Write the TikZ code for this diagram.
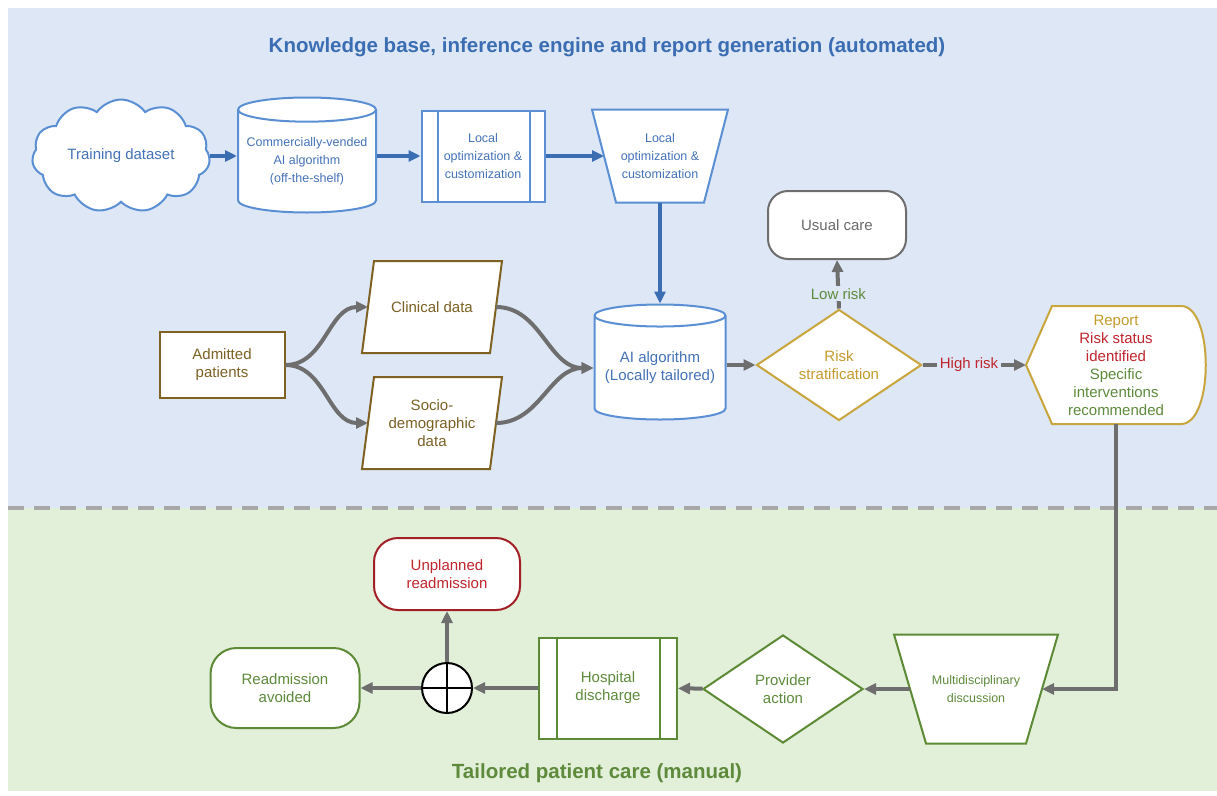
\documentclass[tikz,border=0pt]{standalone}
\usepackage{fontspec}
\setmainfont{Liberation Sans}
\usetikzlibrary{shapes.geometric,shapes.symbols,arrows.meta}
\pgfdeclarelayer{bg}
\pgfdeclarelayer{shapes}
\pgfsetlayers{bg,shapes,main}

\definecolor{bluebg}{HTML}{DDE7F6}
\definecolor{greenbg}{HTML}{E2EFD9}
\definecolor{blueline}{HTML}{5B8FD3}
\definecolor{bluedark}{HTML}{3B6DB3}
\definecolor{bluetext}{HTML}{4472B8}
\definecolor{brownline}{HTML}{7F6122}
\definecolor{browntext}{HTML}{7B6125}
\definecolor{goldline}{HTML}{C9A53D}
\definecolor{goldtext}{HTML}{C49A2E}
\definecolor{redtext}{HTML}{C0252D}
\definecolor{greentext}{HTML}{5E8A3C}
\definecolor{greenline}{HTML}{5D8A35}
\definecolor{grayline}{HTML}{6E6E6E}
\definecolor{graytext}{HTML}{6A6A6A}

\begin{document}
\begin{tikzpicture}[x=1pt, y=-1pt,
	every node/.style={font=\fontsize{15}{18}\selectfont, align=center, fill=white, line width=2pt, inner sep=0pt},
	small/.style={font=\fontsize{12.5}{18}\selectfont},
	heading/.style={fill=none, font=\bfseries\fontsize{20.5}{24}\selectfont},
	bluebox/.style={draw=blueline, text=bluetext},
	brownbox/.style={draw=brownline, text=browntext},
	goldbox/.style={draw=goldline, text=goldtext},
	greenbox/.style={draw=greenline, text=greentext},
	outline/.style={fill=white, line width=2pt},
	free/.style={rectangle, draw=none, fill=none},
	grayarrow/.style={draw=grayline, line width=4pt, -{Triangle[length=12pt,width=11pt]}},
	bluearrow/.style={draw=bluedark, line width=3.5pt, -{Triangle[length=12pt,width=11pt]}},
	terminal/.style={rectangle, rounded corners=20pt, minimum width=138, minimum height=68},
	db/.style={cylinder, shape border rotate=90, aspect=0.2, anchor=shape center, bluebox}]
	\useasboundingbox (0,0) rectangle (1217,795);
	\begin{pgfonlayer}{bg}
	\fill[bluebg] (8,8) rectangle (1217,508);
	\fill[greenbg] (8,508) rectangle (1217,791);
	\draw[grayline!60, line width=4pt, dash pattern=on 16pt off 10pt] (8,508) -- (1217,508);
	\end{pgfonlayer}
	
	\node[heading, text=bluedark] (top) at (607,47) {Knowledge base, inference engine and report generation (automated)};
	\node[heading, text=greentext] (bottom) at (597,773) {Tailored patient care (manual)};
	
	\node[cloud, cloud puffs=11, cloud puff arc=110, aspect=1.6, minimum width=178, minimum height=110, bluebox] (train) at (121,156) {Training dataset};
	\node[db, minimum width=138, minimum height=115, small] (vend) at (307,155) {Commercially-vended\\AI algorithm\\(off-the-shelf)};
	\node[rectangle, minimum width=123, minimum height=91, bluebox, small] (proc) at (483,156) {Local\\optimization \&\\customization};
	\draw[blueline, line width=2pt] ([xshift=17]proc.north west) -- ([xshift=17]proc.south west);
	\draw[blueline, line width=2pt] ([xshift=-16]proc.north east) -- ([xshift=-16]proc.south east);
	\node[free, minimum width=110, minimum height=91, text=bluetext, small] (custom) at (660,156) {Local\\optimization \&\\customization};
	
	\node[rectangle, minimum width=125, minimum height=66, brownbox] (admit) at (222,365) {Admitted\\patients};
	\node[free, minimum width=126, minimum height=90, text=browntext] (clin) at (432,307) {Clinical data};
	\node[free, minimum width=126, minimum height=90, text=browntext] (socio) at (432,423) {Socio-\\demographic\\data};
	\node[db, minimum width=131, minimum height=115] (ai) at (660,362) {AI algorithm\\(Locally tailored)};
	\node[diamond, aspect=1.5, minimum width=165, minimum height=111, goldbox] (risk) at (839,365) {Risk\\stratification};
	\node[terminal, draw=grayline, text=graytext] (usual) at (837,225) {Usual care};
	\node[free, minimum width=178, minimum height=116] (report) at (1116,365) {\textcolor{goldtext}{Report}\\\textcolor{redtext}{Risk status}\\\textcolor{redtext}{identified}\\\textcolor{greentext}{Specific}\\\textcolor{greentext}{interventions}\\\textcolor{greentext}{recommended}};
	
	\node[free, minimum width=130, minimum height=107, text=greentext, small] (multi) at (976,689) {Multidisciplinary\\discussion};
	\node[diamond, aspect=1.5, minimum width=160, minimum height=108, greenbox] (prov) at (783,689) {Provider\\action};
	\node[rectangle, minimum width=138, minimum height=101, greenbox] (hosp) at (608,688) {Hospital\\discharge};
	\draw[greenline, line width=2pt] ([xshift=19]hosp.north west) -- ([xshift=19]hosp.south west);
	\draw[greenline, line width=2pt] ([xshift=-18]hosp.north east) -- ([xshift=-18]hosp.south east);
	\node[circle, draw=black, minimum size=50] (plus) at (447,688) {};
	\draw[black, line width=2pt] (plus.north) -- (plus.south);
	\draw[black, line width=2pt] (plus.west) -- (plus.east);
	\node[terminal, minimum width=149, minimum height=80, rounded corners=26pt, greenbox] (avoid) at (285,688) {Readmission\\avoided};
	\node[terminal, minimum width=146, minimum height=72, rounded corners=24pt, draw=redtext!85!black, text=redtext] (unplan) at (447,574) {Unplanned\\readmission};
	
	\begin{pgfonlayer}{shapes}
	\draw[outline, draw=blueline] ([xshift=-12]custom.north west) -- ([xshift=12]custom.north east) -- ([xshift=-12]custom.south east) -- ([xshift=12]custom.south west) -- cycle;
	\draw[outline, draw=brownline] ([xshift=-6]clin.south west) -- ([xshift=6]clin.north west) -- ([xshift=6]clin.north east) -- ([xshift=-6]clin.south east) -- cycle;
	\draw[outline, draw=brownline] ([xshift=-6]socio.south west) -- ([xshift=6]socio.north west) -- ([xshift=6]socio.north east) -- ([xshift=-6]socio.south east) -- cycle;
	\draw[outline, draw=goldline] ([xshift=26]report.north west) -- (report.west) -- ([xshift=26]report.south west) -- ([xshift=-25]report.south east) .. controls ([xshift=8]report.south east) and ([xshift=8]report.north east) .. ([xshift=-25]report.north east) -- cycle;
	\draw[outline, draw=greenline] ([xshift=-16]multi.north west) -- ([xshift=16]multi.north east) -- ([xshift=-16]multi.south east) -- ([xshift=16]multi.south west) -- cycle;
	\end{pgfonlayer}
	
	\path (train.east) edge[bluearrow] (vend.west |- train.east);
	\path (vend.east |- proc.west) edge[bluearrow] (proc.west);
	\path (proc.east) edge[bluearrow] (custom.west);
	\path (custom.south) edge[bluearrow] (ai.north);
	\path (admit.east) edge[grayarrow, out=0, in=180] (clin.west);
	\path (admit.east) edge[grayarrow, out=0, in=180] (socio.west);
	\path (clin.east) edge[grayarrow, out=0, in=180] (ai.west);
	\path (socio.east) edge[grayarrow, out=0, in=180] (ai.west);
	\path (ai.east |- risk.west) edge[grayarrow] (risk.west);
	\path (risk.north) edge[grayarrow] node[pos=0.3, fill=bluebg, text=greentext, inner sep=2pt] {Low risk} (usual.south);
	\path (risk.east) edge[grayarrow] node[pos=0.45, fill=bluebg, text=redtext, inner sep=3pt] {High risk} (report.west);
	\draw[grayarrow] (report.south) |- (multi.east);
	\path (multi) edge[grayarrow] (prov);
	\path (prov) edge[grayarrow] (hosp);
	\path (hosp) edge[grayarrow] (plus);
	\path (plus) edge[grayarrow] (avoid);
	\path (plus) edge[grayarrow] (unplan);
\end{tikzpicture}
\end{document}
